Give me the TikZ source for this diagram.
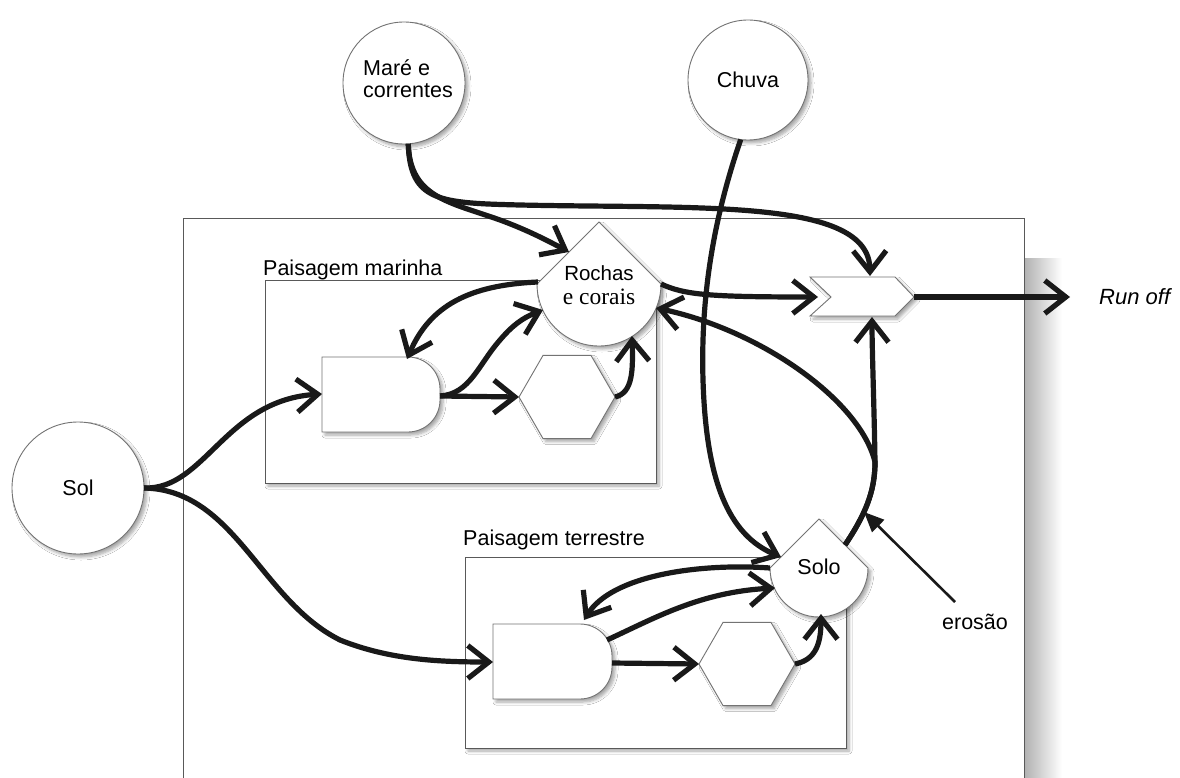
\documentclass[tikz,border=0pt]{standalone}
\usepackage{fontspec}
\setmainfont{Liberation Sans}
\newfontfamily\serifface{Liberation Serif}
\usetikzlibrary{arrows.meta,shapes.geometric,shadows.blur}

\begin{document}
\begin{tikzpicture}[x=1pt,y=-1pt,
  flow/.style={line width=5.2pt, draw=black!90, -{Straight Barb[length=21pt,width=33pt]}},
  softshadow/.style={blur shadow={shadow xshift=3pt, shadow yshift=-3pt,
      shadow blur steps=6, shadow blur radius=3pt, shadow opacity=35}},
  unit/.style={draw=black!55, line width=0.9pt, fill=white, softshadow},
  source/.style={unit, circle, inner sep=0pt, outer sep=0pt},
  hexa/.style={unit, regular polygon, regular polygon sides=6,
      minimum size=96pt, inner sep=0pt, outer sep=0pt},
  frame/.style={draw=black!65, line width=0.9pt},
  lbl/.style={font=\fontsize{21.5}{23}\selectfont, inner sep=0pt},
]
\useasboundingbox (0,0) rectangle (1180,778);
\clip (0,0) rectangle (1180,778);
\fill[white] (0,0) rectangle (1180,778);

% system frame and its shadow
\shade[left color=black!30, right color=white] (1025,258) rectangle (1062,800);
\draw[frame, fill=white] (183,218) rectangle (1024,800);

% sub-system frames
\draw[frame, fill=white, softshadow] (265,280) rectangle (656,483);
\draw[frame, fill=white, softshadow] (465,557) rectangle (846,748);
\node[lbl, anchor=base west] (lblMar) at (263,275) {Paisagem marinha};
\node[lbl, anchor=base west] (lblTer) at (463,545) {Paisagem terrestre};

% energy sources
\node[source, minimum size=122pt] (mare) at (404,83) {};
\node[lbl, anchor=base west] (mareA) at (363,76) {Maré e};
\node[lbl, anchor=base west] (mareB) at (363,98) {correntes};
\node[source, minimum size=120pt] (chuva) at (748,80) {};
\node[lbl] (chuvaT) at (chuva) {Chuva};
\node[source, minimum size=132pt] (sol) at (78,488) {};
\node[lbl] (solT) at (sol) {Sol};

% storage tanks
\draw[unit] (537,284) -- (599,222) -- (661,284) arc[start angle=0, end angle=180, radius=62] -- cycle;
\node[lbl, anchor=base, font=\fontsize{20.5}{22}\selectfont] (rochasA) at (599,280) {Rochas};
\node[lbl, anchor=base, font=\serifface\fontsize{23.5}{25}\selectfont] (rochasB) at (599,304) {e corais};
\draw[unit] (770,568) -- (819,519) -- (868,568) arc[start angle=0, end angle=180, radius=49] -- cycle;
\node[lbl] (solo) at (819,567) {Solo};

% producers
\draw[unit] (322,357) -- (408,357) arc[start angle=-90, end angle=0, radius=32]
  -- (440,400) arc[start angle=0, end angle=90, radius=32] -- (322,432) -- cycle;
\draw[unit] (493,624) -- (580,624) arc[start angle=-90, end angle=0, radius=32]
  -- (612,667) arc[start angle=0, end angle=90, radius=32] -- (493,699) -- cycle;

% consumers
\node[hexa] (hexM) at (567,397) {};
\node[hexa] (hexT) at (747,664) {};

% interaction
\draw[unit] (810,277) -- (895,277) -- (914,297) -- (895,316) -- (810,316) -- (831,297) -- cycle;

% connection points
\coordinate (rochasNW) at (569,252);
\coordinate (rochasW) at (538,282);
\coordinate (rochasE) at (661,284);
\coordinate (rochasSW) at (543,310);
\coordinate (rochasS) at (632,336);
\coordinate (rochasSE) at (656,308);
\coordinate (soloNW) at (781,557);
\coordinate (soloW) at (770,568);
\coordinate (soloSW) at (775,588);
\coordinate (soloS) at (821,614);
\coordinate (soloNE) at (845,545);
\coordinate (prodMW) at (322,394);
\coordinate (prodMNE) at (407,359);
\coordinate (prodME) at (440,396);
\coordinate (prodTW) at (493,662);
\coordinate (prodTNE) at (584,620);
\coordinate (prodTE) at (607,640);
\coordinate (prodTE2) at (612,663);
\coordinate (intN) at (870,276);
\coordinate (intW) at (818,297);
\coordinate (intS) at (872,317);
\coordinate (intE) at (914,297);
\coordinate (runoffTip) at (1070,297);
\coordinate (erosaoTail) at (955,602);
\coordinate (erosaoTip) at (864,512);

% flows
\draw[flow] (mare.-86) .. controls (410,198) and (450,202) .. (500,220)
  .. controls (530,231) and (552,243) .. (rochasNW);
\draw[flow] (mare.-86) .. controls (410,202) and (440,203) .. (520,205)
  .. controls (700,209) and (869,198) .. (intN);
\draw[flow] (chuva.-97) .. controls (720,200) and (700,280) .. (703,380)
  .. controls (706,480) and (728,535) .. (soloNW);
\draw[flow] (rochasE) .. controls (685,295) and (710,297) .. (intW);
\draw[flow] (sol.east) .. controls (205,490) and (225,400) .. (prodMW);
\draw[flow] (sol.east) .. controls (235,490) and (260,600) .. (340,640)
  .. controls (390,660) and (440,662) .. (prodTW);
\draw[flow] (rochasW) .. controls (470,285) and (430,305) .. (prodMNE);
\draw[flow] (prodME) .. controls (470,394) and (478,365) .. (500,340)
  .. controls (512,326) and (522,318) .. (rochasSW);
\draw[flow] (prodME) -- (hexM.west);
\draw[flow] (hexM.east) .. controls (633,393) and (633,370) .. (rochasS);
\draw[flow] (soloW) .. controls (700,563) and (612,575) .. (prodTNE);
\draw[flow] (prodTE) .. controls (655,618) and (700,592) .. (soloSW);
\draw[flow] (prodTE2) -- (hexT.west);
\draw[flow] (hexT.east) .. controls (815,660) and (821,645) .. (soloS);
\draw[flow] (soloNE) .. controls (865,515) and (875,492) .. (875,462)
  .. controls (874,400) and (872,350) .. (intS);
\draw[flow] (soloNE) .. controls (865,515) and (875,492) .. (875,462)
  .. controls (860,400) and (760,330) .. (rochasSE);
\draw[flow] (intE) -- (runoffTip);
\node[lbl, anchor=west, font=\itshape\fontsize{22}{23}\selectfont] (runoff) at (1099,297) {Run off};

% erosion
\draw[line width=2.6pt, draw=black!90, -{Triangle[length=20pt,width=17pt]}] (erosaoTail) -- (erosaoTip);
\node[lbl] (erosao) at (975,622) {erosão};
\end{tikzpicture}
\end{document}
